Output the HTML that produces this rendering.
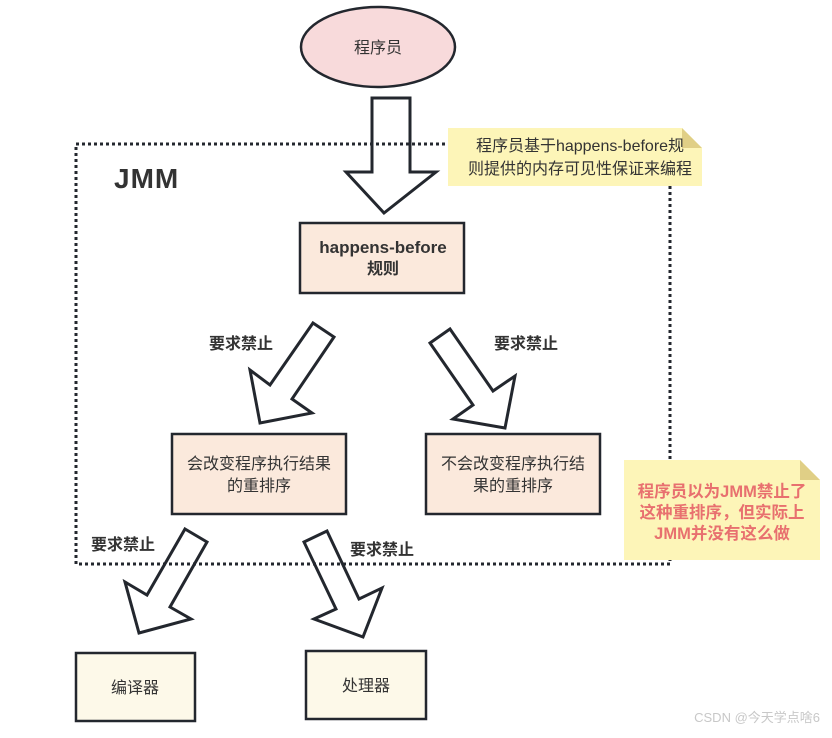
<!DOCTYPE html>
<html><head><meta charset="utf-8"><style>
body{margin:0;background:#fff;}
text{font-family:"Liberation Sans","Noto Sans CJK SC",sans-serif;}
</style></head><body>
<svg width="832" height="733" viewBox="0 0 832 733" xmlns="http://www.w3.org/2000/svg">
<g stroke="#23272e" stroke-width="3" fill="#fff" stroke-linejoin="miter">
<polygon points="372,98 410,98 410,172 436,172 384,213 346,172 372,172"/>
<polygon points="313,323 334,337 292,399 312,413 260,423 250,370 270,385"/>
<polygon points="450,329 493,391 515,376 505,428 453,419 473,405 430,343"/>
<polygon points="185,529 207,542 170,607 191,619 139,633 125,582 147,595"/>
<polygon points="327,531 359,599 382,588 363,637 314,619 336,609 304,542"/>
</g>
<rect x="76" y="144" width="594" height="420" fill="none" stroke="#23272e" stroke-width="3" stroke-dasharray="3,3"/>
<ellipse cx="378" cy="47" rx="77" ry="40" fill="#f8dadb" stroke="#23272e" stroke-width="2.5"/>
<text x="378" y="53" font-size="16" text-anchor="middle" fill="#333">程序员</text>
<text x="114" y="188" font-size="28" font-weight="bold" fill="#333" letter-spacing="1">JMM</text>
<rect x="300" y="223" width="164" height="70" fill="#fbe9dc" stroke="#23272e" stroke-width="2.5"/>
<text x="383" y="253" font-size="17" font-weight="bold" text-anchor="middle" fill="#333">happens-before</text>
<text x="383" y="274" font-size="16" font-weight="bold" text-anchor="middle" fill="#333">规则</text>
<rect x="172" y="434" width="174" height="80" fill="#fbe9dc" stroke="#23272e" stroke-width="2.5"/>
<text x="259" y="469" font-size="16" text-anchor="middle" fill="#333">会改变程序执行结果</text>
<text x="259" y="491" font-size="16" text-anchor="middle" fill="#333">的重排序</text>
<rect x="426" y="434" width="174" height="80" fill="#fbe9dc" stroke="#23272e" stroke-width="2.5"/>
<text x="513" y="469" font-size="16" text-anchor="middle" fill="#333">不会改变程序执行结</text>
<text x="513" y="491" font-size="16" text-anchor="middle" fill="#333">果的重排序</text>
<rect x="76" y="653" width="119" height="68" fill="#fdf9e9" stroke="#23272e" stroke-width="2.5"/>
<text x="135" y="693" font-size="16" text-anchor="middle" fill="#333">编译器</text>
<rect x="306" y="651" width="120" height="68" fill="#fdf9e9" stroke="#23272e" stroke-width="2.5"/>
<text x="366" y="691" font-size="16" text-anchor="middle" fill="#333">处理器</text>
<g font-size="16" font-weight="bold" fill="#333">
<text x="209" y="349">要求禁止</text>
<text x="494" y="349">要求禁止</text>
<text x="91" y="550">要求禁止</text>
<text x="350" y="555">要求禁止</text>
</g>
<polygon points="448,128 682,128 702,148 702,186 448,186" fill="#fdf5b8"/>
<polygon points="682,128 702,148 682,148" fill="#e0cf86"/>
<text x="580" y="151" font-size="16" text-anchor="middle" fill="#333">程序员基于happens-before规</text>
<text x="580" y="174" font-size="16" text-anchor="middle" fill="#333">则提供的内存可见性保证来编程</text>
<polygon points="624,460 800,460 820,480 820,560 624,560" fill="#fdf5b8"/>
<polygon points="800,460 820,480 800,480" fill="#e0cf86"/>
<g font-size="16.5" font-weight="bold" fill="#e8706f" text-anchor="middle">
<text x="722" y="497">程序员以为JMM禁止了</text>
<text x="722" y="518">这种重排序，但实际上</text>
<text x="722" y="539">JMM并没有这么做</text>
</g>
<text x="820" y="722" font-size="13" text-anchor="end" fill="#c8c8c8">CSDN @今天学点啥6</text>
</svg>
</body></html>
